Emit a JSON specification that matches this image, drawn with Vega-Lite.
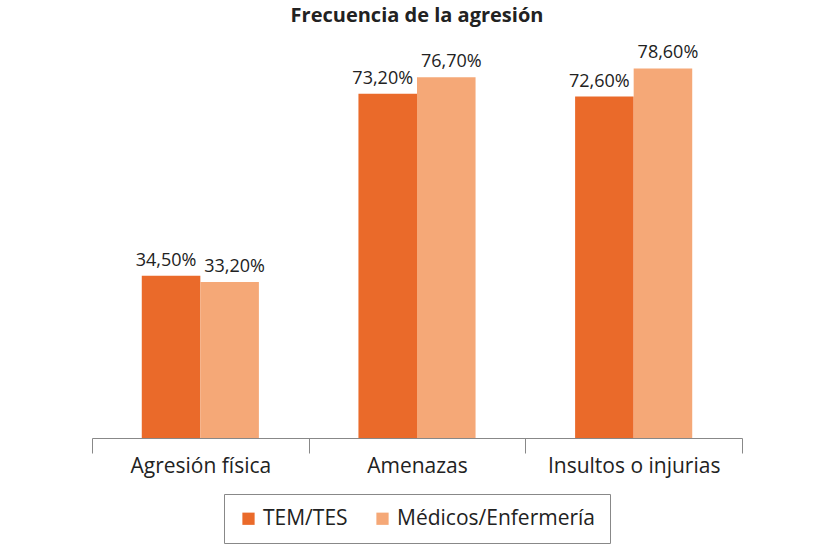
{
  "$schema": "https://vega.github.io/schema/vega-lite/v6.json",
  "width": 650,
  "height": 395,
  "padding": {"left": 91, "right": 89, "top": 6, "bottom": 0},
  "background": "#ffffff",
  "title": {
    "text": "Frecuencia de la agresión",
    "font": "Open Sans",
    "fontSize": 20,
    "fontWeight": "bold",
    "color": "#222222",
    "anchor": "middle",
    "offset": 17
  },
  "config": {
    "view": {"stroke": null},
    "font": "Open Sans"
  },
  "data": {
    "values": [
      {"categoria": "Agresión física", "grupo": "TEM/TES", "valor": 34.5, "etiqueta": "34,50%"},
      {"categoria": "Agresión física", "grupo": "Médicos/Enfermería", "valor": 33.2, "etiqueta": "33,20%"},
      {"categoria": "Amenazas", "grupo": "TEM/TES", "valor": 73.2, "etiqueta": "73,20%"},
      {"categoria": "Amenazas", "grupo": "Médicos/Enfermería", "valor": 76.7, "etiqueta": "76,70%"},
      {"categoria": "Insultos o injurias", "grupo": "TEM/TES", "valor": 72.6, "etiqueta": "72,60%"},
      {"categoria": "Insultos o injurias", "grupo": "Médicos/Enfermería", "valor": 78.6, "etiqueta": "78,60%"}
    ]
  },
  "encoding": {
    "x": {
      "field": "categoria",
      "type": "nominal",
      "sort": null,
      "scale": {"paddingInner": 0, "paddingOuter": 0},
      "axis": {
        "title": null,
        "labelAngle": 0,
        "labelFontSize": 21,
        "labelColor": "#222222",
        "labelPadding": 2,
        "domainColor": "#888888",
        "tickColor": "#888888",
        "tickSize": 15,
        "tickBand": "extent",
        "labelFont": "Open Sans"
      }
    },
    "xOffset": {
      "field": "grupo",
      "type": "nominal",
      "sort": ["TEM/TES", "Médicos/Enfermería"],
      "scale": {"paddingInner": 0, "paddingOuter": 0.85}
    },
    "y": {
      "field": "valor",
      "type": "quantitative",
      "scale": {"domain": [0, 84]},
      "axis": null
    }
  },
  "layer": [
    {
      "mark": {"type": "bar"},
      "encoding": {
        "color": {
          "field": "grupo",
          "type": "nominal",
          "sort": ["TEM/TES", "Médicos/Enfermería"],
          "scale": {"domain": ["TEM/TES", "Médicos/Enfermería"], "range": ["#EA6A2A", "#F5A877"]},
          "legend": {
            "title": null,
            "orient": "none",
            "legendX": 132,
            "legendY": 451,
            "direction": "horizontal",
            "symbolType": "square",
            "symbolSize": 150,
            "symbolStrokeWidth": 0,
            "labelFontSize": 21,
            "labelLimit": 400,
            "labelColor": "#222222",
            "labelFont": "Open Sans",
            "strokeColor": "#888888",
            "padding": 14,
            "columnPadding": 24
          }
        }
      }
    },
    {
      "transform": [{"filter": "datum.grupo === 'TEM/TES'"}],
      "mark": {"type": "text", "baseline": "bottom", "dy": -6, "dx": -5, "fontSize": 18, "color": "#222222", "font": "Open Sans"},
      "encoding": {
        "text": {"field": "etiqueta", "type": "nominal"}
      }
    },
    {
      "transform": [{"filter": "datum.grupo !== 'TEM/TES'"}],
      "mark": {"type": "text", "baseline": "bottom", "dy": -6, "dx": 5, "fontSize": 18, "color": "#222222", "font": "Open Sans"},
      "encoding": {
        "text": {"field": "etiqueta", "type": "nominal"}
      }
    }
  ]
}
